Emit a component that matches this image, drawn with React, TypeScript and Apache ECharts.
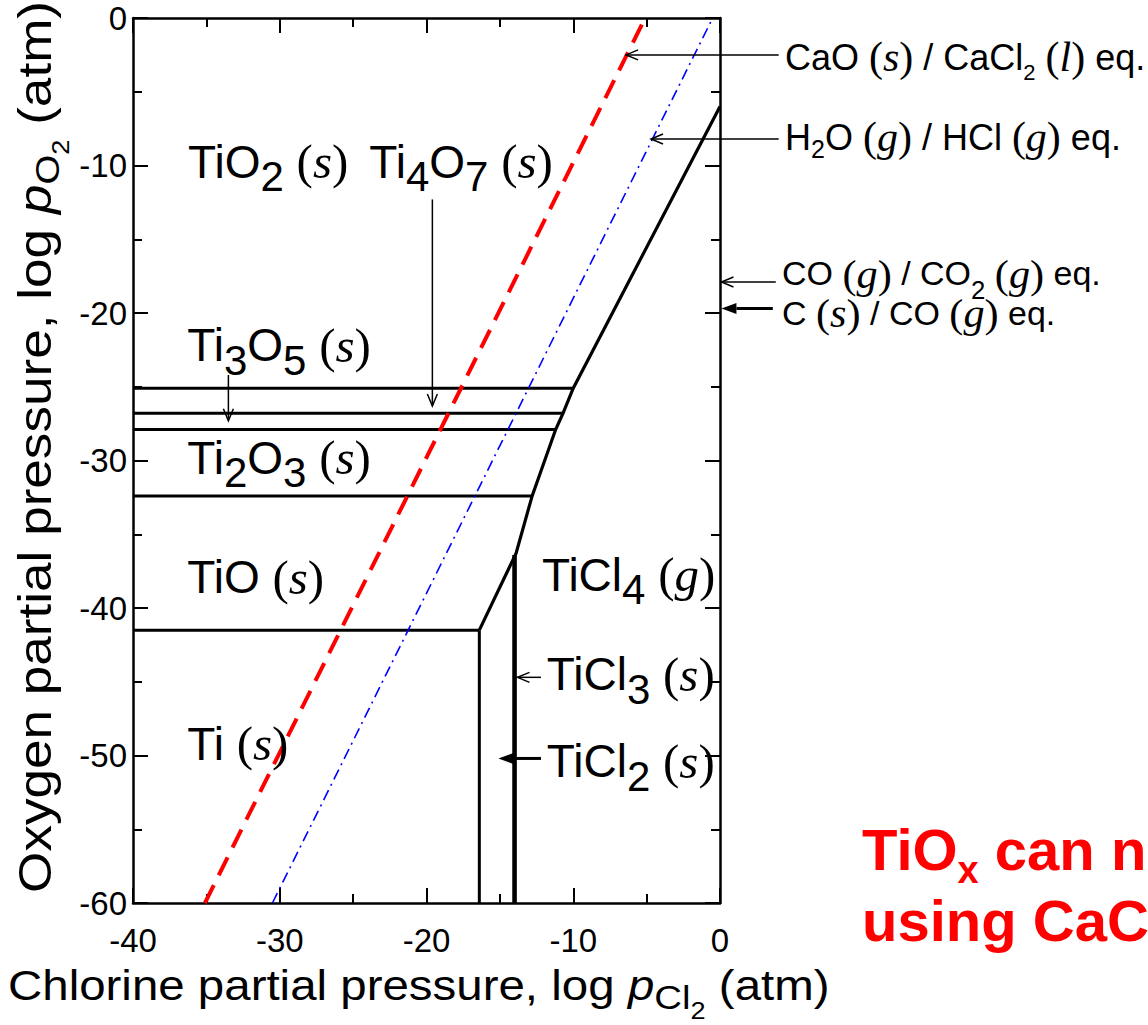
import React, { useEffect, useRef } from "react";
import * as echarts from "echarts";

// Axis ranges, log p (atm)
const pCl2Range = [-40, 0];
const pO2Range = [-60, 0];
const majorStep = 10;

// Oxide / oxide boundaries: log pO2 of each horizontal line and the log pCl2 where it meets the TiCl4(g) field
const oxideBoundaryPO2 = [-25.1, -26.8, -27.9, -32.4, -41.5];
const oxideBoundaryEndPCl2 = [-10.0, -10.7, -11.2, -12.8, -16.4];

// Oxide / TiCl4(g) boundary, from the top right corner down to TiO / Ti
const tiCl4BoundaryPCl2 = [0, -10.0, -10.7, -11.2, -12.8, -13.9, -16.4];
const tiCl4BoundaryPO2 = [-6.0, -25.1, -26.8, -27.9, -32.4, -36.3, -41.5];

// Ti(s) / TiCl2(s) boundary
const tiBoundaryPCl2 = [-16.4, -16.4];
const tiBoundaryPO2 = [-41.5, -60];

// TiCl2 / TiCl3 / TiCl4 boundaries (coincide at this scale)
const chlorideBoundaryPCl2 = [-14.0, -14.0];
const chlorideBoundaryPO2 = [-36.4, -60];

// CaO(s) / CaCl2(l) equilibrium
const caoEqPCl2 = [-35.1, -5.1];
const caoEqPO2 = [-60, 0];

// H2O(g) / HCl(g) equilibrium
const h2oEqPCl2 = [-30.5, -0.5];
const h2oEqPO2 = [-60, 0];

type Pt = [number, number];

// Callout arrows: tail and tip in (log pCl2, log pO2)
const arrowCallouts: { from: Pt; to: Pt; head: "open" | "solid" }[] = [
  { from: [4.0, -2.5], to: [-6.4, -2.5], head: "open" },
  { from: [4.0, -8.2], to: [-4.7, -8.2], head: "open" },
  { from: [3.8, -17.9], to: [0.1, -17.9], head: "open" },
  { from: [3.6, -19.7], to: [0.1, -19.7], head: "solid" },
  { from: [-12.2, -44.7], to: [-13.8, -44.7], head: "open" },
  { from: [-12.2, -50.2], to: [-15.1, -50.2], head: "solid" },
  { from: [-19.6, -12.3], to: [-19.6, -26.3], head: "open" },
  { from: [-33.5, -24.2], to: [-33.5, -27.3], head: "open" },
];

// Phase field names, anchored at their left edge
const phaseLabels: { at: Pt; text: string }[] = [
  { at: [-36.25, -9.76], text: "{t|TiO}{b|2}{t| }{p|(}{i|s}{p|)}" },
  { at: [-23.9, -9.76], text: "{t|Ti}{b|4}{t|O}{b|7}{t| }{p|(}{i|s}{p|)}" },
  { at: [-36.3, -22.2], text: "{t|Ti}{b|3}{t|O}{b|5}{t| }{p|(}{i|s}{p|)}" },
  { at: [-36.3, -29.8], text: "{t|Ti}{b|2}{t|O}{b|3}{t| }{p|(}{i|s}{p|)}" },
  { at: [-36.3, -37.9], text: "{t|TiO }{p|(}{i|s}{p|)}" },
  { at: [-36.3, -49.2], text: "{t|Ti }{p|(}{i|s}{p|)}" },
  { at: [-12.13, -37.76], text: "{t|TiCl}{b|4}{t| }{p|(}{i|g}{p|)}" },
  { at: [-11.8, -44.5], text: "{t|TiCl}{b|3}{t| }{p|(}{i|s}{p|)}" },
  { at: [-11.8, -50.4], text: "{t|TiCl}{b|2}{t| }{p|(}{i|s}{p|)}" },
];

// Equilibrium names beside the right axis (the carbon pair is set as one two-line block)
const eqLabels: { at: Pt; text: string; small: boolean }[] = [
  { at: [4.43, -2.65], text: "{t|CaO }{p|(}{i|s}{p|)}{t| / CaCl}{b|2}{t| }{p|(}{i|l}{p|)}{t| eq.}", small: false },
  { at: [4.43, -8.1], text: "{t|H}{h|2}{t|O }{p|(}{i|g}{p|)}{t| / HCl }{p|(}{i|g}{p|)}{t| eq.}", small: false },
  {
    at: [4.23, -18.7],
    text:
      "{t|CO }{p|(}{i|g}{p|)}{t| / CO}{b|2}{t| }{p|(}{i|g}{p|)}{t| eq.}\n" +
      "{t|C }{p|(}{i|s}{p|)}{t| / CO }{p|(}{i|g}{p|)}{t| eq.}",
    small: true,
  },
];

const sans = "'Liberation Sans', Arial, sans-serif";
const serif = "'Liberation Serif', 'Times New Roman', serif";
const black = "#000";

function formulaRich(size: number, subSize: number, subShift: number, parenSize: number) {
  return {
    t: { fontFamily: sans, fontSize: size, lineHeight: size * 1.2, fill: black },
    b: { fontFamily: sans, fontSize: subSize, lineHeight: subSize, padding: [subShift * 2, 0, 0, 0], fill: black },
    h: { fontFamily: sans, fontSize: subSize + 3, lineHeight: subSize, padding: [24, 0, 0, 0], fill: black },
    p: { fontFamily: serif, fontSize: parenSize, lineHeight: size * 1.2, fill: black },
    i: { fontFamily: serif, fontStyle: "italic", fontSize: parenSize, lineHeight: size * 1.2, fill: black },
  };
}

function titleRich(size: number) {
  return {
    t: { fontFamily: sans, fontSize: size, lineHeight: size * 1.2, fill: black },
    pi: { fontFamily: sans, fontStyle: "italic", fontSize: size, lineHeight: size * 1.2, fill: black },
    s1: { fontFamily: sans, fontSize: 34, lineHeight: 34, padding: [24, 0, 0, 0], fill: black },
    s2: { fontFamily: sans, fontSize: 24, lineHeight: 24, padding: [52, 0, 0, 0], fill: black },
  };
}

function pairs(xs: number[], ys: number[]) {
  return xs.map((x, i) => [x, ys[i]]);
}

function boundary(data: number[][], width: number) {
  return {
    type: "line",
    data,
    symbol: "none",
    silent: true,
    z: 3,
    lineStyle: { color: black, width, cap: "butt", join: "miter" },
  };
}

function axis(kind: "x" | "y", position: string, showLabels: boolean) {
  const range = kind === "x" ? pCl2Range : pO2Range;
  const tickStyle = { color: black, width: 2 };
  return {
    type: "value",
    position,
    min: range[0],
    max: range[1],
    interval: majorStep,
    axisLine: { show: true, onZero: false, lineStyle: { color: black, width: 2.5 } },
    axisTick: { show: true, inside: true, length: 15, lineStyle: tickStyle },
    minorTick: { show: true, splitNumber: 2, length: 9, lineStyle: tickStyle },
    splitLine: { show: false },
    minorSplitLine: { show: false },
    axisLabel: {
      show: showLabels,
      color: black,
      fontFamily: sans,
      fontSize: 33,
      margin: kind === "x" ? 21 : 6,
    },
  };
}

export default function App() {
  const ref = useRef<HTMLDivElement>(null);

  useEffect(() => {
    const chart = echarts.init(ref.current!, null, { renderer: "svg" });

    const series: any[] = [
      ...oxideBoundaryPO2.map((y, i) => boundary([[pCl2Range[0], y], [oxideBoundaryEndPCl2[i], y]], 3)),
      boundary(pairs(tiCl4BoundaryPCl2, tiCl4BoundaryPO2), 3.2),
      boundary(pairs(tiBoundaryPCl2, tiBoundaryPO2), 3),
      boundary(pairs(chlorideBoundaryPCl2, chlorideBoundaryPO2), 4.6),
      {
        type: "line",
        data: pairs(caoEqPCl2, caoEqPO2),
        symbol: "none",
        silent: true,
        z: 4,
        lineStyle: { color: "#ff0000", width: 4, type: [20, 11], cap: "butt" },
      },
      {
        type: "line",
        data: pairs(h2oEqPCl2, h2oEqPO2),
        symbol: "none",
        silent: true,
        z: 4,
        lineStyle: { color: "#0000ff", width: 1.6, type: [11, 5, 2, 5], cap: "butt" },
      },
    ];

    chart.setOption({
      animation: false,
      backgroundColor: "#fff",
      grid: { left: 133, top: 18, width: 587, height: 885 },
      xAxis: [axis("x", "bottom", true), axis("x", "top", false)],
      yAxis: [axis("y", "left", true), axis("y", "right", false)],
      series,
    });

    const toPx = (p: number[]) => chart.convertToPixel({ seriesIndex: 0 }, p) as number[];
    const elements: any[] = [];

    // callout arrows
    arrowCallouts.forEach((a) => {
      const [x1, y1] = toPx(a.from);
      const [x2, y2] = toPx(a.to);
      const ang = Math.atan2(y2 - y1, x2 - x1);
      const c = Math.cos(ang);
      const s = Math.sin(ang);
      const solid = a.head === "solid";
      const len = solid ? 15 : 12;
      const hw = solid ? 5.5 : 5;
      const bx = x2 - c * len;
      const by = y2 - s * len;
      const wing1 = [bx - s * hw, by + c * hw];
      const wing2 = [bx + s * hw, by - c * hw];
      elements.push({
        type: "line",
        z: 10,
        shape: { x1, y1, x2: solid ? bx : x2, y2: solid ? by : y2 },
        style: { stroke: black, lineWidth: solid ? 3 : 1.5 },
      });
      elements.push(
        solid
          ? { type: "polygon", z: 10, shape: { points: [wing1, [x2, y2], wing2] }, style: { fill: black } }
          : {
              type: "polyline",
              z: 10,
              shape: { points: [wing1, [x2, y2], wing2] },
              style: { stroke: black, lineWidth: 1.5, fill: null },
            }
      );
    });

    const text = (x: number, y: number, str: string, rich: any, extra: any = {}) => ({
      type: "text",
      z: 11,
      x,
      y,
      scaleX: extra.scaleX ?? 1,
      rotation: extra.rotation ?? 0,
      style: {
        text: str,
        rich,
        fill: extra.fill ?? black,
        fontFamily: sans,
        fontSize: 40,
        align: extra.align ?? "left",
        textAlign: extra.align ?? "left",
        verticalAlign: "middle",
        textVerticalAlign: "middle",
      },
    });

    const phaseRich = formulaRich(46, 42, 15, 49);
    phaseLabels.forEach((l) => {
      const [x, y] = toPx(l.at);
      elements.push(text(x, y, l.text, phaseRich));
    });

    const eqRichLarge = formulaRich(36, 22, 15, 42);
    const eqRichSmall = formulaRich(33, 25, 16, 41);
    eqLabels.forEach((l) => {
      const [x, y] = toPx(l.at);
      elements.push(text(x, y, l.text, l.small ? eqRichSmall : eqRichLarge, { scaleX: l.small ? 1.03 : 1 }));
    });

    // axis titles
    elements.push(
      text(
        8,
        985,
        "{t|Chlorine partial pressure, log }{pi|p}{s1|Cl}{s2|2}{t| (atm)}",
        titleRich(42),
        { scaleX: 1.13 }
      )
    );
    elements.push(
      text(
        35,
        447,
        "{t|Oxygen partial pressure, log }{pi|p}{s1|O}{s2|2}{t| (atm)}",
        titleRich(47),
        { scaleX: 1.13, rotation: Math.PI / 2, align: "center" }
      )
    );

    // conclusion note
    const noteRich = {
      r: { fontFamily: sans, fontWeight: "bold", fontSize: 58, lineHeight: 71, fill: "#ff0000" },
      rs: { fontFamily: sans, fontWeight: "bold", fontSize: 38, lineHeight: 38, padding: [40, 0, 0, 0], fill: "#ff0000" },
    };
    elements.push(
      text(862, 885, "{r|TiO}{rs|x}{r| can n}\n{r|using CaC}", noteRich, { fill: "#ff0000" })
    );

    chart.setOption({ graphic: { elements } });

    return () => chart.dispose();
  }, []);

  return (
    <div
      ref={ref}
      style={{ position: "absolute", left: 0, top: 0, width: 1148, height: 1025, background: "#fff" }}
    />
  );
}
